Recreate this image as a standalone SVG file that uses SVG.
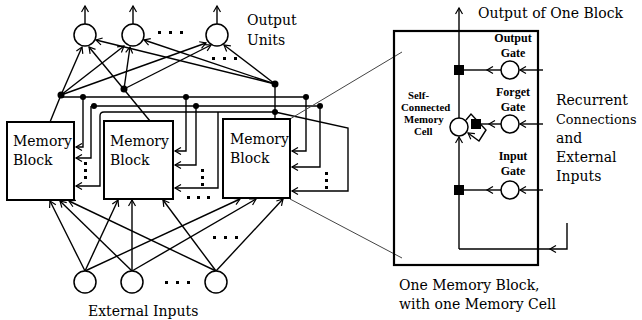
<svg xmlns="http://www.w3.org/2000/svg" width="642" height="320" viewBox="0 0 642 320">
<defs>
<style>
.ln{stroke:#000;stroke-width:1.4;fill:none}
.bx{stroke:#000;stroke-width:2;fill:#fff}
.nd{stroke:#000;stroke-width:1.5;fill:#fff}
.dt{fill:#000}
.pr{stroke:#444;stroke-width:1;fill:none}
.t{font-family:"DejaVu Serif",serif;font-size:14px;fill:#000}
.tb{font-family:"Liberation Serif",serif;font-weight:bold;font-size:12px;fill:#000}
.ts{font-family:"Liberation Serif",serif;font-weight:bold;font-size:10.8px;fill:#000}
.c{text-anchor:middle}
</style>
<marker id="a" markerWidth="9" markerHeight="9" refX="7" refY="4.5" orient="auto" markerUnits="userSpaceOnUse">
<path d="M1,1 L7,4.5 L1,8" fill="none" stroke="#000" stroke-width="1.2"/>
</marker>
</defs>
<rect width="642" height="320" fill="#fff"/>

<!-- connectors -->
<g id="connectors">
<!-- output unit outputs -->
<line class="ln" x1="85" y1="24" x2="85" y2="6" marker-end="url(#a)"/>
<line class="ln" x1="133" y1="24" x2="133" y2="6" marker-end="url(#a)"/>
<line class="ln" x1="217" y1="24" x2="217" y2="6" marker-end="url(#a)"/>
<!-- block outputs to hubs -->
<line class="ln" x1="50" y1="122" x2="61" y2="95"/>
<path class="ln" d="M150,121 L89,47" marker-end="url(#a)"/>
<line class="ln" x1="275" y1="119" x2="275" y2="84"/>
<!-- hub A -->
<line class="ln" x1="61" y1="95" x2="82" y2="47" marker-end="url(#a)"/>
<line class="ln" x1="61" y1="95" x2="124" y2="46" marker-end="url(#a)"/>
<line class="ln" x1="61" y1="95" x2="206" y2="43" marker-end="url(#a)"/>
<!-- hub B -->
<line class="ln" x1="124" y1="89" x2="130" y2="47" marker-end="url(#a)"/>
<line class="ln" x1="124" y1="89" x2="211" y2="45" marker-end="url(#a)"/>
<!-- hub C -->
<line class="ln" x1="275" y1="84" x2="96" y2="40" marker-end="url(#a)"/>
<line class="ln" x1="275" y1="84" x2="144" y2="40" marker-end="url(#a)"/>
<line class="ln" x1="275" y1="84" x2="224" y2="45" marker-end="url(#a)"/>
<!-- buses -->
<line class="ln" x1="61" y1="97" x2="306" y2="97"/>
<line class="ln" x1="91" y1="106" x2="320" y2="106"/>
<path class="ln" d="M275,112 L104,112 Q100,112 100,116 L100,186 L76,186" marker-end="url(#a)"/>
<path class="ln" d="M83,97 L83,147 L76,147" marker-end="url(#a)"/>
<path class="ln" d="M91,106 L91,158 L76,158" marker-end="url(#a)"/>
<path class="ln" d="M186,97 L186,151 L175,151" marker-end="url(#a)"/>
<path class="ln" d="M196,106 L196,165 L175,165" marker-end="url(#a)"/>
<path class="ln" d="M218,112 L218,188 L175,188" marker-end="url(#a)"/>
<path class="ln" d="M306,97 L306,151 L292,151" marker-end="url(#a)"/>
<path class="ln" d="M320,106 L320,167 L292,167" marker-end="url(#a)"/>
<path class="ln" d="M275,112 L348,128 L348,191 L292,191" marker-end="url(#a)"/>
<!-- external inputs -->
<line class="ln" x1="85" y1="271" x2="50" y2="201" marker-end="url(#a)"/>
<line class="ln" x1="85" y1="271" x2="118" y2="200" marker-end="url(#a)"/>
<line class="ln" x1="85" y1="271" x2="240" y2="199" marker-end="url(#a)"/>
<line class="ln" x1="132" y1="271" x2="60" y2="201" marker-end="url(#a)"/>
<line class="ln" x1="132" y1="271" x2="132" y2="200" marker-end="url(#a)"/>
<line class="ln" x1="132" y1="271" x2="256" y2="199" marker-end="url(#a)"/>
<line class="ln" x1="216" y1="271" x2="69" y2="201" marker-end="url(#a)"/>
<line class="ln" x1="216" y1="271" x2="163" y2="200" marker-end="url(#a)"/>
<line class="ln" x1="216" y1="271" x2="283" y2="199" marker-end="url(#a)"/>
<!-- projection lines -->
<line class="pr" x1="290" y1="119" x2="402" y2="52"/>
<line class="pr" x1="290" y1="199" x2="402" y2="258"/>
<!-- detail panel connections -->
<line class="ln" x1="459" y1="118" x2="459" y2="8" marker-end="url(#a)"/>
<line class="ln" x1="459" y1="249" x2="459" y2="137" marker-end="url(#a)"/>
<path class="ln" d="M567,223 L567,249 L550,249" marker-end="url(#a)"/>
<line class="ln" x1="550" y1="249" x2="459" y2="249"/>
<path class="ln" d="M501,70 L487,70" marker-end="url(#a)"/>
<line class="ln" x1="487" y1="70" x2="464" y2="70"/>
<line class="ln" x1="543" y1="70" x2="520" y2="70" marker-end="url(#a)"/>
<path class="ln" d="M501,124 L489,124" marker-end="url(#a)"/>
<line class="ln" x1="489" y1="124" x2="481" y2="124"/>
<line class="ln" x1="543" y1="124" x2="520" y2="124" marker-end="url(#a)"/>
<path class="ln" d="M501,190 L487,190" marker-end="url(#a)"/>
<line class="ln" x1="487" y1="190" x2="464" y2="190"/>
<line class="ln" x1="543" y1="190" x2="520" y2="190" marker-end="url(#a)"/>
<path class="ln" d="M466,120 L471,114 L486,130 L479,141 L468,133" marker-end="url(#a)"/>
</g>

<!-- output units -->
<g id="out1"><circle class="nd" cx="85" cy="35" r="11"/></g>
<g id="out2"><circle class="nd" cx="133" cy="35" r="11"/></g>
<g id="out3"><circle class="nd" cx="217" cy="35" r="11"/></g>
<g id="out-dots">
<rect class="dt" x="158" y="31" width="3" height="3"/><rect class="dt" x="169" y="31" width="3" height="3"/><rect class="dt" x="180" y="31" width="3" height="3"/>
<rect class="dt" x="212" y="57" width="3" height="3"/><rect class="dt" x="223" y="57" width="3" height="3"/><rect class="dt" x="234" y="57" width="3" height="3"/>
</g>
<g id="out-label">
<text class="t" x="247" y="25">Output</text>
<text class="t" x="247" y="45">Units</text>
</g>

<!-- hubs -->
<g id="hubs">
<circle class="dt" cx="61" cy="95" r="3.5"/>
<circle class="dt" cx="124" cy="89" r="3.5"/>
<circle class="dt" cx="275" cy="84" r="3.5"/>
<circle class="dt" cx="83" cy="97" r="3"/>
<circle class="dt" cx="186" cy="97" r="3"/>
<circle class="dt" cx="306" cy="97" r="3"/>
<circle class="dt" cx="94" cy="106" r="3"/>
<circle class="dt" cx="196" cy="106" r="3"/>
<circle class="dt" cx="320" cy="106" r="3"/>
<circle class="dt" cx="275" cy="112" r="3"/>
</g>

<!-- memory blocks -->
<g id="block1">
<rect class="bx" x="7" y="122" width="67" height="78"/>
<text class="t" x="13" y="146">Memory</text>
<text class="t" x="13" y="165">Block</text>
</g>
<g id="block2">
<rect class="bx" x="104" y="121" width="69" height="78"/>
<text class="t" x="110" y="146">Memory</text>
<text class="t" x="110" y="165">Block</text>
</g>
<g id="block3">
<rect class="bx" x="223" y="119" width="67" height="79"/>
<text class="t" x="230" y="144">Memory</text>
<text class="t" x="230" y="163">Block</text>
</g>
<g id="block-dots">
<rect class="dt" x="84" y="162" width="3" height="3"/><rect class="dt" x="84" y="169" width="3" height="3"/><rect class="dt" x="84" y="176" width="3" height="3"/>
<rect class="dt" x="201" y="169" width="3" height="3"/><rect class="dt" x="201" y="176" width="3" height="3"/><rect class="dt" x="201" y="183" width="3" height="3"/>
<rect class="dt" x="325" y="172" width="3" height="3"/><rect class="dt" x="325" y="179" width="3" height="3"/><rect class="dt" x="325" y="186" width="3" height="3"/>
<rect class="dt" x="187" y="196" width="3" height="3"/><rect class="dt" x="197" y="196" width="3" height="3"/><rect class="dt" x="207" y="196" width="3" height="3"/>
<rect class="dt" x="213" y="236" width="3" height="3"/><rect class="dt" x="224" y="236" width="3" height="3"/><rect class="dt" x="235" y="236" width="3" height="3"/>
</g>

<!-- input units -->
<g id="in1"><circle class="nd" cx="85" cy="282" r="11"/></g>
<g id="in2"><circle class="nd" cx="132" cy="282" r="11"/></g>
<g id="in3"><circle class="nd" cx="216" cy="282" r="11"/></g>
<g id="in-dots">
<rect class="dt" x="165" y="281" width="3" height="3"/><rect class="dt" x="176" y="281" width="3" height="3"/><rect class="dt" x="187" y="281" width="3" height="3"/>
</g>
<g id="in-label"><text class="t" x="88" y="316">External Inputs</text></g>

<!-- detail: one memory block -->
<g id="detail-box">
<rect x="394" y="31" width="144" height="234" fill="none" stroke="#000" stroke-width="2.2"/>
<text class="t" x="399" y="290">One Memory Block,</text>
<text class="t" x="399" y="309">with one Memory Cell</text>
</g>
<g id="block-output-label"><text class="t" x="478" y="18">Output of One Block</text></g>
<g id="cell">
<circle class="nd" cx="459" cy="127" r="9"/>
<text class="ts" x="408" y="99">Self-</text>
<text class="ts" x="401" y="111">Connected</text>
<text class="ts" x="404" y="123">Memory</text>
<text class="ts" x="414" y="135">Cell</text>
</g>
<g id="output-gate">
<circle class="nd" cx="510" cy="70" r="9"/>
<rect class="dt" x="454" y="65" width="10" height="10"/>
<text class="tb c" x="513" y="42">Output</text>
<text class="tb c" x="513" y="57">Gate</text>
</g>
<g id="forget-gate">
<circle class="nd" cx="510" cy="124" r="9"/>
<rect class="dt" x="471" y="119" width="10" height="10"/>
<text class="tb c" x="513" y="96">Forget</text>
<text class="tb c" x="513" y="111">Gate</text>
</g>
<g id="input-gate">
<circle class="nd" cx="510" cy="190" r="9"/>
<rect class="dt" x="454" y="185" width="10" height="10"/>
<text class="tb c" x="513" y="160">Input</text>
<text class="tb c" x="513" y="175">Gate</text>
</g>
<g id="recurrent-label">
<text class="t" x="556" y="105">Recurrent</text>
<text class="t" x="556" y="124" style="font-size:12.8px">Connections</text>
<text class="t" x="556" y="143">and</text>
<text class="t" x="556" y="162">External</text>
<text class="t" x="556" y="181">Inputs</text>
</g>
</svg>
